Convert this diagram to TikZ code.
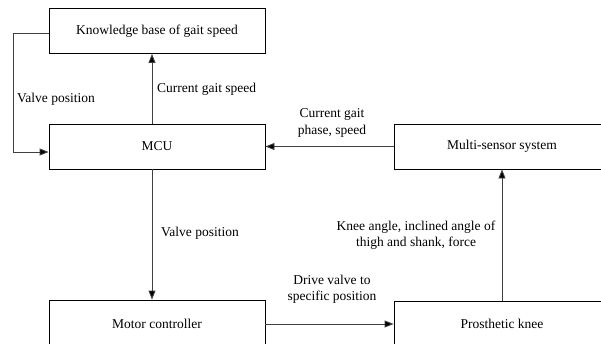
\documentclass[tikz,border=0pt]{standalone}
\usepackage{fontspec}
\setmainfont{Liberation Serif}
\usetikzlibrary{arrows.meta}
\begin{document}
\begin{tikzpicture}[x=1pt,y=-1pt,
  box/.style={draw=black,line width=0.9pt,minimum width=216pt,minimum height=45pt,inner sep=0pt,font=\fontsize{13.5}{16}\selectfont},
  lbl/.style={inner sep=0pt,align=center,font=\fontsize{13.5}{16.5}\selectfont},
  arr/.style={draw=black!75,line width=0.9pt,-{Triangle[length=9pt,width=7pt,fill=black]}}]
\clip (0,0) rectangle (601,343);
\fill[white] (0,0) rectangle (601,343);
\node[box] (kb) at (157,31) {Knowledge base of gait speed};
\node[box] (mcu) at (157,146.5) {MCU};
\node[box] (ms) at (502,146.5) {Multi-sensor system};
\node[box,minimum height=48pt] (mc) at (157,324) {Motor controller};
\node[box,minimum height=46pt] (pk) at (502,324) {Prosthetic knee};
\coordinate (lc) at (13,33);
\draw[arr] ([yshift=-2pt]kb.west) -- (lc) |- ([yshift=-5.5pt]mcu.west);
\draw[arr] ([xshift=-5pt]mcu.north) -- ([xshift=-5pt]kb.south);
\draw[arr] ([xshift=-5pt]mcu.south) -- ([xshift=-5pt]mc.north);
\draw[arr] (ms.west) -- (mcu.east);
\draw[arr] (mc.east) -- (pk.west);
\draw[arr] (pk.north) -- (ms.south);
\node[lbl,anchor=west] (l1) at (17,99) {Valve position};
\node[lbl,anchor=west] (l2) at (157,89) {Current gait speed};
\node[lbl] (l3) at (332,123) {Current gait\\phase, speed};
\node[lbl,anchor=west] (l4) at (161,233) {Valve position};
\node[lbl] (l5) at (416,235) {Knee angle, inclined angle of\\thigh and shank, force};
\node[lbl] (l6) at (332,289) {Drive valve to\\specific position};
\end{tikzpicture}
\end{document}
